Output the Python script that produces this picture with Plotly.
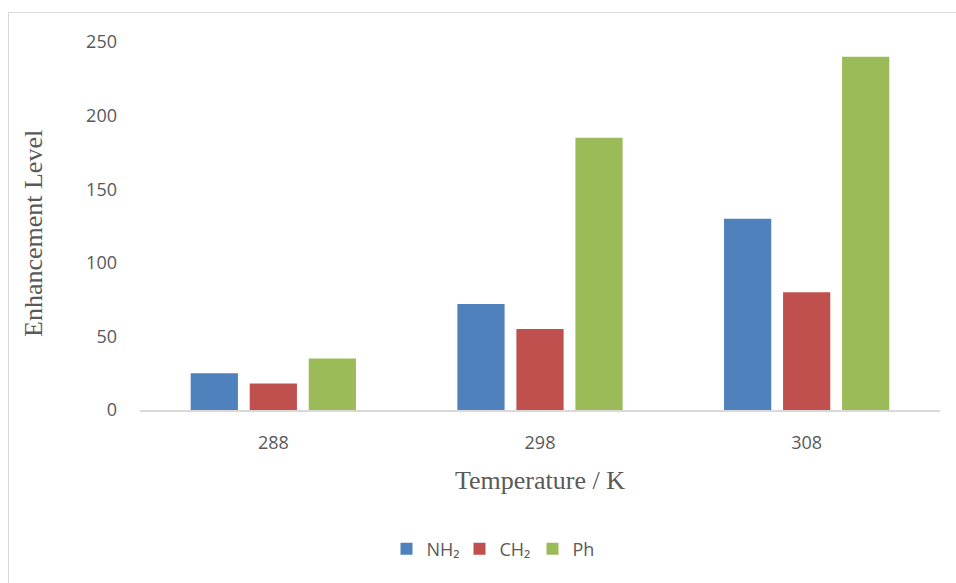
import plotly.graph_objects as go

# Enhancement level by temperature for each substituent group
temperatures = ["288", "298", "308"]
nh2_values = [25, 72, 130]
ch2_values = [18, 55, 80]
ph_values = [35, 185, 240]

series_names = ["NH₂", "CH₂", "Ph"]
series_colors = ["#4F81BD", "#C0504D", "#9BBB59"]

fig = go.Figure()
for name, vals, color in zip(series_names, [nh2_values, ch2_values, ph_values], series_colors):
    fig.add_trace(go.Bar(x=temperatures, y=vals, name=name, marker=dict(color=color, line=dict(width=0))))

label_font = dict(family="Open Sans, Noto Sans, sans-serif", size=18, color="#595959")
title_font = dict(family="Liberation Serif, Times New Roman, serif", size=26, color="#595959")

L, R, T, B = 140, 16, 42, 173
W, H = 956, 583
plot_w = W - L - R
plot_h = H - T - B

fig.update_layout(
    width=W, height=H,
    margin=dict(l=L, r=R, t=T, b=B),
    paper_bgcolor="white", plot_bgcolor="white",
    barmode="group", bargap=0.336, bargroupgap=0.2,
    showlegend=True,
    legend=dict(orientation="h", x=0.445, xanchor="center", y=(410 - 549) / plot_h,
                yanchor="middle", font=label_font, itemwidth=30, traceorder="normal",
                entrywidth=28, entrywidthmode="pixels"),
    xaxis=dict(showgrid=False, showline=True, linecolor="#D9D9D9", linewidth=1.5,
               ticks="", tickfont=label_font, ticklabelstandoff=16),
    yaxis=dict(range=[0, 250], tickvals=[0, 50, 100, 150, 200, 250], showgrid=False,
               zeroline=False, showline=False, ticks="", tickfont=label_font,
               ticklabelstandoff=22),
    shapes=[dict(type="rect", xref="paper", yref="paper",
                 x0=(8.5 - L) / plot_w, x1=1.2, y0=-1.0, y1=(410 - 12.5) / plot_h,
                 line=dict(color="#D9D9D9", width=1), layer="below")],
    annotations=[
        dict(text="Temperature / K", xref="paper", yref="paper", x=(540 - L) / plot_w,
             y=(410 - 481) / plot_h, xanchor="center", yanchor="middle", showarrow=False,
             font=title_font),
        dict(text="Enhancement Level", xref="paper", yref="paper", x=(33 - L) / plot_w,
             y=(410 - 234) / plot_h, xanchor="center", yanchor="middle", showarrow=False,
             textangle=-90, font=title_font),
    ],
)

fig.write_html("out.html")
